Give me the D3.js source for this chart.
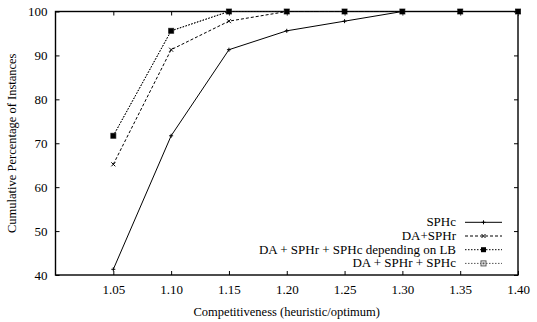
<!DOCTYPE html>
<html>
<head>
<meta charset="utf-8">
<script src="https://cdn.jsdelivr.net/npm/d3@7"></script>
</head>
<body style="margin:0; background:#fff">
<svg id="chart" width="537" height="322"></svg>
<script>
// data
const xValues = [1.05, 1.10, 1.15, 1.20, 1.25, 1.30, 1.35, 1.40];
const sphc = [41.3, 71.7, 91.3, 95.6, 97.8, 100, 100, 100];
const daSphr = [65.2, 91.3, 97.8, 100, 100, 100, 100, 100];
const dependingLB = [71.7, 95.6, 100, 100, 100, 100, 100, 100];
const daSphrSphc = [71.7, 95.6, 100, 100, 100, 100, 100, 100];
const xTicks = [1.05, 1.10, 1.15, 1.20, 1.25, 1.30, 1.35, 1.40];
const yTicks = [40, 50, 60, 70, 80, 90, 100];

const series = [
    { name: "DA + SPHr + SPHc", values: daSphrSphc, dash: "1.5,1.5", color: "#555", marker: "openSquare" },
    { name: "DA + SPHr + SPHc depending on LB", values: dependingLB, dash: "1.5,1.5", color: "#000", marker: "square" },
    { name: "DA+SPHr", values: daSphr, dash: "3,2", color: "#000", marker: "cross" },
    { name: "SPHc", values: sphc, dash: null, color: "#000", marker: "plus" }
];
const legendOrder = ["SPHc", "DA+SPHr", "DA + SPHr + SPHc depending on LB", "DA + SPHr + SPHc"];

const FONT = "Liberation Serif";

const svg = d3.select("#chart")
    .attr("font-family", FONT);
const margin = { top: 11.5, right: 19, bottom: 47, left: 55.5 };
const width = 537 - margin.left - margin.right;
const height = 322 - margin.top - margin.bottom;

const chart = svg.append("g")
    .attr("transform", `translate(${margin.left},${margin.top})`);

// Scales
const xScale = d3.scaleLinear().domain([1.00, 1.40]).range([0, width]);
const yScale = d3.scaleLinear().domain([40, 100]).range([height, 0]);

// Axes (ticks point inwards, mirrored)
const fmt = d3.format(".2f");
chart.append("g")
    .attr("transform", `translate(0,${height})`)
    .call(d3.axisBottom(xScale).tickValues(xTicks).tickSizeInner(-4).tickSizeOuter(0).tickPadding(10).tickFormat(fmt))
    .call(g => g.select(".domain").remove());
chart.append("g")
    .call(d3.axisTop(xScale).tickValues(xTicks).tickSizeInner(-4).tickSizeOuter(0).tickFormat(""))
    .call(g => g.select(".domain").remove());
chart.append("g")
    .call(d3.axisLeft(yScale).tickValues(yTicks).tickSizeInner(-4).tickSizeOuter(0).tickPadding(8))
    .call(g => g.select(".domain").remove());
chart.append("g")
    .attr("transform", `translate(${width},0)`)
    .call(d3.axisRight(yScale).tickValues(yTicks).tickSizeInner(-4).tickSizeOuter(0).tickFormat(""))
    .call(g => g.select(".domain").remove());

chart.selectAll(".tick text")
    .attr("font-family", FONT)
    .attr("font-size", 13)
    .attr("fill", "#000");

// Frame
chart.append("rect")
    .attr("width", width)
    .attr("height", height)
    .attr("fill", "none")
    .attr("stroke", "#000")
    .attr("stroke-width", 1.4);

// Axis labels
chart.append("text")
    .attr("x", width / 2)
    .attr("y", height + 41)
    .attr("text-anchor", "middle")
    .attr("font-family", FONT)
    .attr("font-size", 12.5)
    .text("Competitiveness (heuristic/optimum)");

chart.append("text")
    .attr("transform", "rotate(-90)")
    .attr("x", -height / 2)
    .attr("y", -40)
    .attr("text-anchor", "middle")
    .attr("font-family", FONT)
    .attr("font-size", 12.5)
    .text("Cumulative Percentage of Instances");

// Marker drawing
function drawMarker(g, type, x, y, color) {
    if (type === "plus") {
        g.append("path").attr("d", `M${x - 2},${y}H${x + 2}M${x},${y - 2}V${y + 2}`)
            .attr("stroke", color).attr("stroke-width", 1);
    } else if (type === "cross") {
        g.append("path").attr("d", `M${x - 2},${y - 2}L${x + 2},${y + 2}M${x - 2},${y + 2}L${x + 2},${y - 2}`)
            .attr("stroke", color).attr("stroke-width", 1);
    } else if (type === "square") {
        g.append("rect").attr("x", x - 2.5).attr("y", y - 2.5).attr("width", 5).attr("height", 5)
            .attr("fill", color);
    } else if (type === "openSquare") {
        g.append("rect").attr("x", x - 2.5).attr("y", y - 2.5).attr("width", 5).attr("height", 5)
            .attr("fill", "#fff").attr("stroke", color).attr("stroke-width", 1);
        g.append("rect").attr("x", x - 1).attr("y", y - 1).attr("width", 2).attr("height", 2)
            .attr("fill", color);
    }
}

const line = d3.line()
    .x((d, i) => xScale(xValues[i]))
    .y(d => yScale(d));

series.forEach(s => {
    chart.append("path")
        .datum(s.values)
        .attr("d", line)
        .attr("fill", "none")
        .attr("stroke", s.color)
        .attr("stroke-width", 1)
        .attr("stroke-dasharray", s.dash);
    const mg = chart.append("g");
    s.values.forEach((v, i) => drawMarker(mg, s.marker, xScale(xValues[i]), yScale(v), s.color));
});

// Legend
const legend = svg.append("g");
legendOrder.forEach((name, i) => {
    const s = series.find(d => d.name === name);
    const y = 222.3 + i * 13.7;
    legend.append("text")
        .attr("x", 456)
        .attr("y", y + 4)
        .attr("text-anchor", "end")
        .attr("font-family", FONT)
        .attr("font-size", 13)
        .text(name);
    legend.append("line")
        .attr("x1", 465).attr("x2", 502)
        .attr("y1", y).attr("y2", y)
        .attr("stroke", s.color)
        .attr("stroke-width", 1)
        .attr("stroke-dasharray", s.dash);
    drawMarker(legend, s.marker, 483.5, y, s.color);
});
</script>
</body>
</html>
